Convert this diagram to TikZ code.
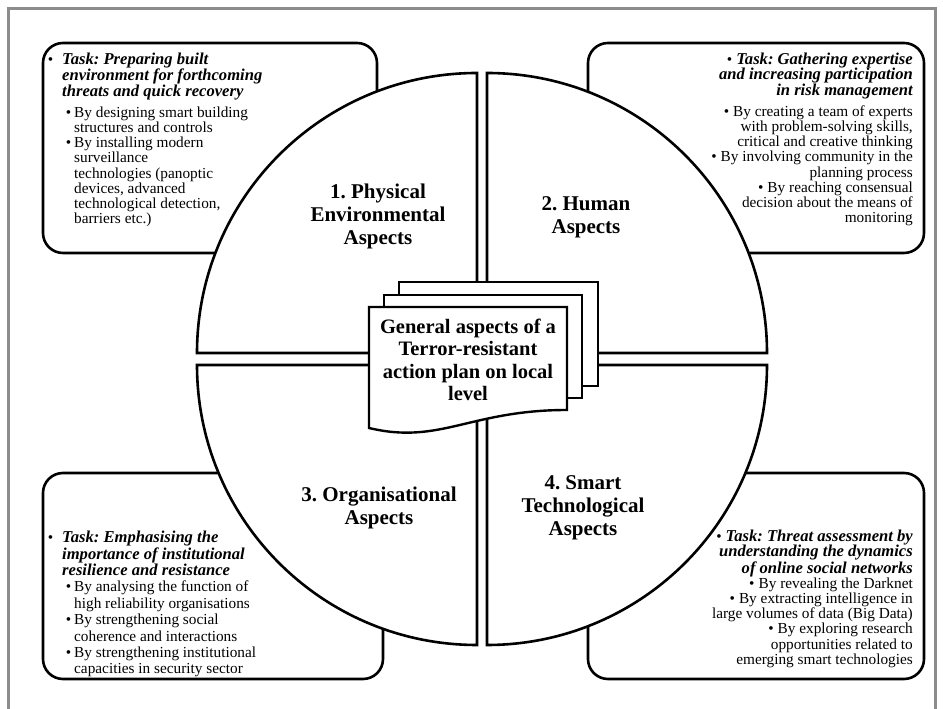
\documentclass[tikz,border=0pt]{standalone}
\usepackage{fontspec}
\setmainfont{Liberation Serif}
\usepackage{tikz}
\frenchspacing
\tikzstyle{quadrant}=[draw, fill=white, line width=2.6pt]
\tikzstyle{taskbox}=[draw, rounded corners=20pt, line width=2.6pt]
\tikzstyle{page}=[draw, fill=white, line width=2.4pt]
\tikzstyle{aspect}=[align=center, inner sep=0pt, font=\fontsize{21}{23}\selectfont\bfseries]
\tikzstyle{tasktext}=[inner sep=0pt, font=\fontsize{15.3}{15.2}\selectfont]
\newcommand{\hfont}{\fontsize{16.6}{15.5}\selectfont\bfseries\itshape}
\newcommand{\hitem}{\llap{\textbullet\hspace{9pt}}}
\newcommand{\sitem}{\hspace*{12pt}\llap{\textbullet\hspace{3pt}}}
\newcommand{\scont}{\hspace*{12pt}}
\newcommand{\ritem}{\textbullet\hspace{4pt}}

\begin{document}
\begin{tikzpicture}[x=1pt, y=1pt]
\useasboundingbox (0,0) rectangle (943,709);
% frame
\draw[black!45, line width=3pt] (8.5,0) -- (8.5,700.5) -- (935,700.5) -- (935,0);
% task boxes behind the circle
\draw[taskbox] (43,456) rectangle (377,666);
\draw[taskbox] (588,456) rectangle (924,666);
\draw[taskbox] (43,30) rectangle (383,236);
\draw[taskbox] (588,30) rectangle (924,236);
% four quarters
\draw[quadrant] (477,356) -- (197,356) arc (180:90:280) -- cycle;
\draw[quadrant] (487,356) -- (487,636) arc (90:0:280) -- cycle;
\draw[quadrant] (477,344) -- (197,344) arc (180:270:280) -- cycle;
\draw[quadrant] (487,344) -- (767,344) arc (0:-90:280) -- cycle;
% stack of pages
\draw[page] (399,323) rectangle (598,427);
\draw[page] (384,311) rectangle (582,414);
\draw[page] (369,402) -- (567,402) -- (567,299) .. controls (470,299) and (440,264) .. (369,281) -- cycle;

\node[aspect, font=\fontsize{20.5}{22.3}\selectfont\bfseries] at (468,349) (plan) {General aspects of a\\Terror-resistant\\action plan on local\\level};
\node[aspect] at (378,493) (physical) {1. Physical\\Environmental\\Aspects};
\node[aspect] at (586,492) (human) {2. Human\\Aspects};
\node[aspect] at (379,201) (organisational) {3. Organisational\\Aspects};
\node[aspect] at (583,201) (smart) {4. Smart\\Technological\\Aspects};

\node[tasktext, align=left, anchor=north west] at (62,656) (task1) {\hitem{\hfont Task: Preparing built}\\
{\hfont environment for forthcoming}\\
{\hfont threats and quick recovery}\\[6pt]
\sitem By designing smart building\\
\scont structures and controls\\
\sitem By installing modern\\
\scont surveillance\\
\scont technologies (panoptic\\
\scont devices, advanced\\
\scont technological detection,\\
\scont barriers etc.)};
\node[tasktext, align=right, anchor=north east] at (913,656) (task2) {\ritem{\hfont Task: Gathering expertise}\\
{\hfont and increasing participation}\\
{\hfont in risk management}\\[6pt]
\ritem By creating a team of experts\\
with problem-solving skills,\\
critical and creative thinking\\
\ritem By involving community in the\\
planning process\\
\ritem By reaching consensual\\
decision about the means of\\
monitoring};
\node[tasktext, font=\fontsize{15.3}{16.4}\selectfont, align=left, anchor=north west] at (62,178) (task3) {\hitem{\hfont Task: Emphasising the}\\
{\hfont importance of institutional}\\
{\hfont resilience and resistance}\\
\sitem By analysing the function of\\
\scont high reliability organisations\\
\sitem By strengthening social\\
\scont coherence and interactions\\
\sitem By strengthening institutional\\
\scont capacities in security sector};
\node[tasktext, align=right, anchor=north east] at (913,179) (task4) {\ritem{\hfont Task: Threat assessment by}\\
{\hfont understanding the dynamics}\\
{\hfont of online social networks}\\
\ritem By revealing the Darknet\\
\ritem By extracting intelligence in\\
large volumes of data (Big Data)\\
\ritem By exploring research\\
opportunities related to\\
emerging smart technologies};
\end{tikzpicture}
\end{document}
